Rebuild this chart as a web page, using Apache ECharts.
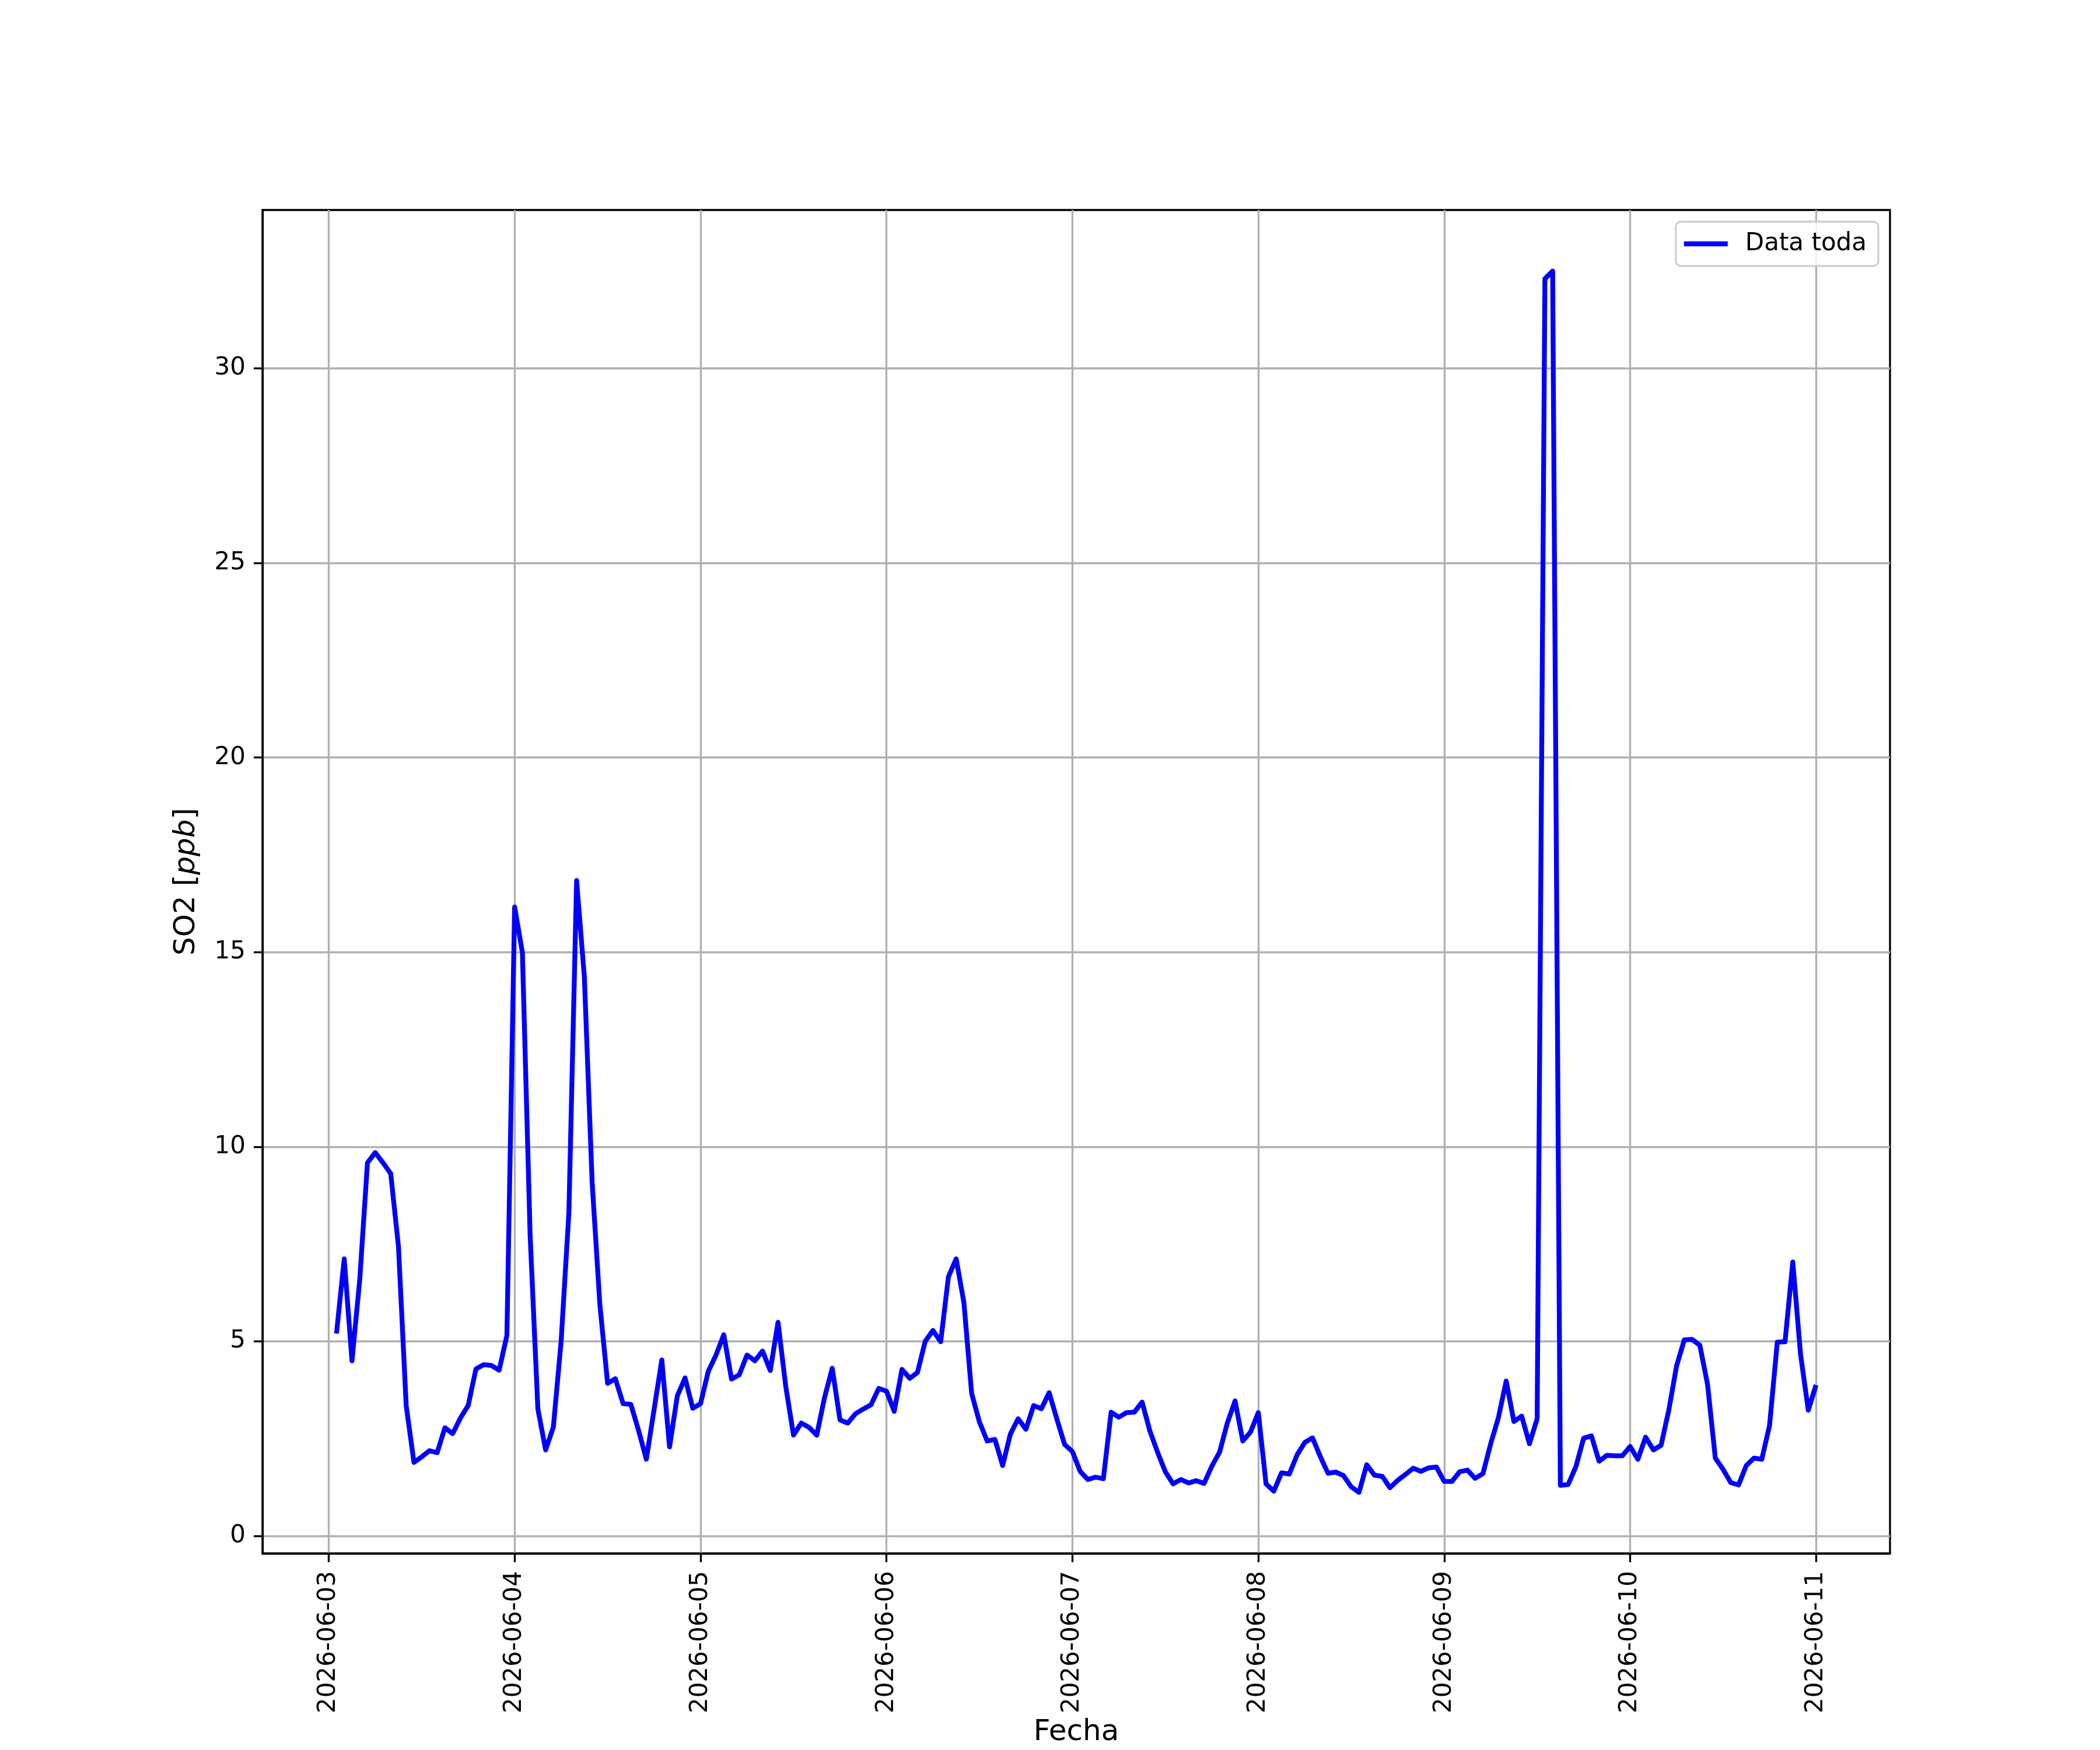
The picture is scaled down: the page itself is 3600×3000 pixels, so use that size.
<!DOCTYPE html>
<html>
<head>
<meta charset="utf-8">
<script src="https://cdn.jsdelivr.net/npm/echarts@6/dist/echarts.min.js"></script>
<style>
html,body{margin:0;padding:0;background:#fff;}
#c{width:3600px;height:3000px;}
</style>
</head>
<body>
<div id="c"></div>
<script>
// Hourly SO2 values, first point 2026-06-03 01:00, last 2026-06-11 00:00
const day1 = [5.2, 7.12, 4.5, 6.58, 9.59, 9.85, 9.59, 9.31, 7.44, 3.35, 1.89, 2.03, 2.19, 2.14, 2.78, 2.63, 3.03, 3.35, 4.29, 4.4, 4.38, 4.26, 5.15, 16.16];
const day2 = [14.99, 7.72, 3.26, 2.21, 2.8, 5.0, 8.3, 16.84, 14.36, 9.1, 5.95, 3.92, 4.04, 3.4, 3.38, 2.71, 1.97, 3.25, 4.52, 2.29, 3.6, 4.06, 3.28, 3.4];
const day3 = [4.23, 4.65, 5.17, 4.03, 4.14, 4.65, 4.5, 4.75, 4.25, 5.49, 3.84, 2.59, 2.9, 2.79, 2.59, 3.55, 4.31, 2.98, 2.9, 3.14, 3.26, 3.37, 3.79, 3.72];
const day4 = [3.2, 4.28, 4.05, 4.2, 5.0, 5.28, 4.99, 6.66, 7.12, 5.99, 3.66, 2.93, 2.44, 2.48, 1.81, 2.62, 3.01, 2.74, 3.35, 3.27, 3.68, 3.0, 2.35, 2.17];
const day5 = [1.66, 1.45, 1.51, 1.47, 3.18, 3.05, 3.17, 3.18, 3.44, 2.7, 2.15, 1.65, 1.34, 1.45, 1.36, 1.42, 1.35, 1.79, 2.15, 2.9, 3.47, 2.44, 2.67, 3.17];
const day6 = [1.34, 1.15, 1.62, 1.59, 2.08, 2.4, 2.52, 2.04, 1.61, 1.64, 1.55, 1.26, 1.12, 1.83, 1.56, 1.53, 1.24, 1.43, 1.58, 1.74, 1.66, 1.75, 1.77, 1.4];
const day7 = [1.4, 1.65, 1.69, 1.48, 1.6, 2.37, 3.04, 3.98, 2.94, 3.08, 2.37, 3.01, 32.3, 32.5, 1.3, 1.32, 1.78, 2.51, 2.57, 1.92, 2.07, 2.06, 2.06, 2.3];
const day8 = [1.97, 2.54, 2.21, 2.33, 3.24, 4.37, 5.04, 5.05, 4.9, 3.89, 2.0, 1.71, 1.37, 1.31, 1.81, 2.0, 1.97, 2.84, 4.98, 4.99, 7.04, 4.67, 3.23, 3.88];

const startTime = '2026-06-03T01:00:00Z';
const dayTicks = ['2026-06-03','2026-06-04','2026-06-05','2026-06-06','2026-06-07','2026-06-08','2026-06-09','2026-06-10','2026-06-11'];
const yTicks = [0, 5, 10, 15, 20, 25, 30];
const seriesName = 'Data toda';

const HOUR = 3600000;
const values = [].concat(day1, day2, day3, day4, day5, day6, day7, day8);
const t0 = Date.parse(startTime);
const data = values.map((v, i) => [t0 + i * HOUR, v]);
const tickTimes = dayTicks.map(d => Date.parse(d + 'T00:00:00Z'));

const first = t0, last = t0 + (values.length - 1) * HOUR;
const xPad = (last - first) * 0.05;
const vmin = Math.min.apply(null, values), vmax = Math.max.apply(null, values);
const yPad = (vmax - vmin) * 0.05;

function pad2(n){ return (n < 10 ? '0' : '') + n; }
function fmtDay(v){
  const d = new Date(v);
  return d.getUTCFullYear() + '-' + pad2(d.getUTCMonth() + 1) + '-' + pad2(d.getUTCDate());
}

const FONT = 'DejaVu Sans';
const chart = echarts.init(document.getElementById('c'), null, {renderer: 'canvas', width: 3600, height: 3000, devicePixelRatio: 1});
chart.setOption({
  animation: false,
  backgroundColor: '#ffffff',
  textStyle: {fontFamily: FONT, color: '#000'},
  grid: {left: 450, right: 360, top: 360, bottom: 330, containLabel: false, show: true, borderColor: '#000', borderWidth: 3.3, backgroundColor: 'transparent'},
  legend: {
    data: [{name: seriesName, icon: 'rect'}],
    right: 380, top: 380,
    itemWidth: 75, itemHeight: 8.3,
    padding: [17, 20, 17, 14],
    backgroundColor: 'rgba(255,255,255,0.8)',
    borderColor: '#d0d0d0', borderWidth: 3.3, borderRadius: 9,
    itemStyle: {color: '#0000ff', borderWidth: 0},
    textStyle: {fontFamily: FONT, fontSize: 42, color: '#000', padding: [0, 0, 0, 25]}
  },
  xAxis: {
    type: 'value',
    min: first - xPad, max: last + xPad,
    name: 'Fecha', nameLocation: 'middle', nameGap: 282,
    nameTextStyle: {fontFamily: FONT, fontSize: 50, color: '#000'},
    axisLine: {show: true, onZero: false, lineStyle: {color: '#000', width: 3.3}},
    axisTick: {show: true, customValues: tickTimes, length: 15, lineStyle: {color: '#000', width: 3.3}},
    axisLabel: {show: true, customValues: tickTimes, rotate: 90, margin: 30, fontSize: 42, fontFamily: FONT, color: '#000', formatter: fmtDay, hideOverlap: false, showMinLabel: true, showMaxLabel: true},
    splitLine: {show: true, lineStyle: {color: '#b0b0b0', width: 3.3}}
  },
  yAxis: {
    type: 'value',
    min: vmin - yPad, max: vmax + yPad,
    name: 'SO2 [{i|ppb}]', nameLocation: 'middle', nameGap: 105, nameRotate: 90,
    nameTextStyle: {fontFamily: FONT, fontSize: 50, color: '#000', rich: {i: {fontFamily: FONT, fontSize: 50, fontStyle: 'italic', color: '#000'}}},
    axisLine: {show: true, onZero: false, lineStyle: {color: '#000', width: 3.3}},
    axisTick: {show: true, customValues: yTicks, length: 15, lineStyle: {color: '#000', width: 3.3}},
    axisLabel: {show: true, customValues: yTicks, margin: 29, fontSize: 42, fontFamily: FONT, color: '#000'},
    splitLine: {show: true, lineStyle: {color: '#b0b0b0', width: 3.3}}
  },
  series: [{
    name: seriesName,
    type: 'line',
    data: data,
    symbol: 'none',
    showSymbol: false,
    lineStyle: {color: '#0000ff', width: 8.3, join: 'round'},
    itemStyle: {color: '#0000ff'},
    clip: true
  }]
});
</script>
</body>
</html>
